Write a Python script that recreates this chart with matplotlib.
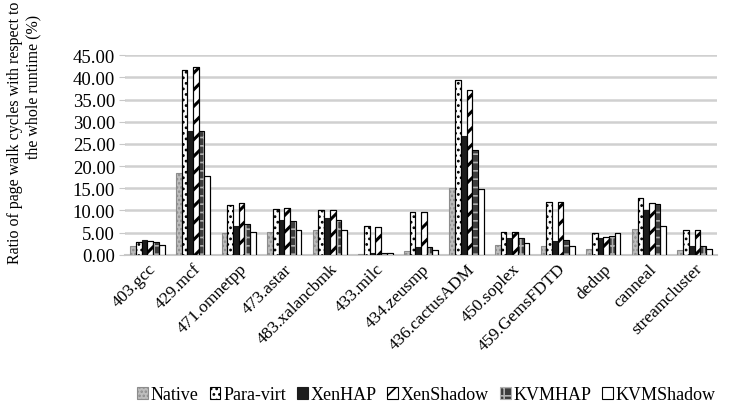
import numpy as np
import matplotlib
matplotlib.use('Agg')
import matplotlib.pyplot as plt

plt.rcParams['font.family'] = ['Liberation Serif', 'DejaVu Serif']
plt.rcParams['hatch.linewidth'] = 1.2

benchmarks = ['403.gcc', '429.mcf', '471.omnetpp', '473.astar', '483.xalancbmk',
              '433.milc', '434.zeusmp', '436.cactusADM', '450.soplex',
              '459.GemsFDTD', 'dedup', 'canneal', 'streamcluster']

native    = [2.1, 18.4, 4.9, 5.1, 5.5, 0.3, 0.9, 15.1, 2.2, 2.0, 1.3, 5.9, 1.2]
para_virt = [3.0, 41.6, 11.3, 10.4, 10.1, 6.5, 9.6, 39.4, 5.1, 11.9, 4.9, 12.8, 5.7]
xen_hap   = [3.4, 27.8, 6.6, 7.8, 8.2, 0.4, 1.7, 26.8, 3.7, 3.2, 3.8, 10.0, 1.9]
xen_shadow = [3.2, 42.4, 11.7, 10.6, 10.1, 6.2, 9.7, 37.2, 5.2, 11.9, 4.0, 11.6, 5.6]
kvm_hap   = [3.0, 28.0, 6.9, 7.6, 7.9, 0.45, 1.7, 23.6, 3.9, 3.3, 4.2, 11.4, 1.9]
kvm_shadow = [2.3, 17.8, 5.1, 5.7, 5.6, 0.4, 1.0, 14.9, 2.6, 2.1, 4.9, 6.4, 1.3]

# name, values, face, hatch colour, hatch, hatch width, outline
series = [
    ('Native', native, '#bdbdbd', '#8c8c8c', '....', 1.2, None),
    ('Para-virt', para_virt, 'white', 'black', '...', 1.2, 'black'),
    ('XenHAP', xen_hap, '#1c1c1c', '#1c1c1c', None, 1.2, None),
    ('XenShadow', xen_shadow, 'white', 'black', '//', 2.2, 'black'),
    ('KVMHAP', kvm_hap, '#3c3c3c', '#b0b0b0', '++', 1.2, 'black'),
    ('KVMShadow', kvm_shadow, 'white', 'black', None, 1.2, 'black'),
]

fig = plt.figure(figsize=(7.29, 4.10), dpi=100)
ax = fig.add_axes([0.171, 0.376, 0.813, 0.487])

x = np.arange(len(benchmarks))
w = 0.125
for i, (name, vals, fc, hc, hatch, hlw, oc) in enumerate(series):
    pos = x + (i - 2.5) * w
    with plt.rc_context({'hatch.linewidth': hlw}):
        ax.bar(pos, vals, w, facecolor=fc, edgecolor=hc, hatch=hatch,
               linewidth=0.8, label=name, zorder=3)
    if oc is not None:
        ax.bar(pos, vals, w, fill=False, edgecolor=oc, linewidth=0.8, zorder=4)

ax.set_ylim(0, 45)
ax.set_xlim(-0.5, len(benchmarks) - 0.5)
ticks = np.arange(0, 46, 5)
ax.set_yticks(ticks)
ax.set_yticklabels([f'{v:.2f}' for v in ticks], fontsize=13.5)
ax.yaxis.grid(True, color='#d0d0d0', linewidth=1.8, zorder=0)
ax.set_axisbelow(True)
for s in ['top', 'right', 'left']:
    ax.spines[s].set_visible(False)
ax.spines['bottom'].set_color('#c8c8c8')
ax.spines['bottom'].set_linewidth(1.5)
ax.tick_params(axis='y', length=4, color='#c8c8c8', pad=3)
ax.tick_params(axis='x', length=0, pad=4)
ax.set_xticks(x)
ax.set_xticklabels(benchmarks, rotation=45, ha='right', rotation_mode='anchor',
                   fontsize=12.5)

# two-line axis title, second line set slightly lower
fig.text(15 / 729, 1 - 2 / 410, 'Ratio of page walk cycles with respect to',
         rotation=90, ha='center', va='top', fontsize=11.5)
fig.text(33 / 729, 1 - 15 / 410, 'the whole runtime (%)',
         rotation=90, ha='center', va='top', fontsize=11.5)

fig.legend(loc='center', bbox_to_anchor=(0.585, 0.035), ncol=6, frameon=False,
           fontsize=13, handlelength=0.6, handleheight=0.6, handletextpad=0.15,
           columnspacing=0.6, borderaxespad=0)

fig.savefig('out.png', dpi=100)
